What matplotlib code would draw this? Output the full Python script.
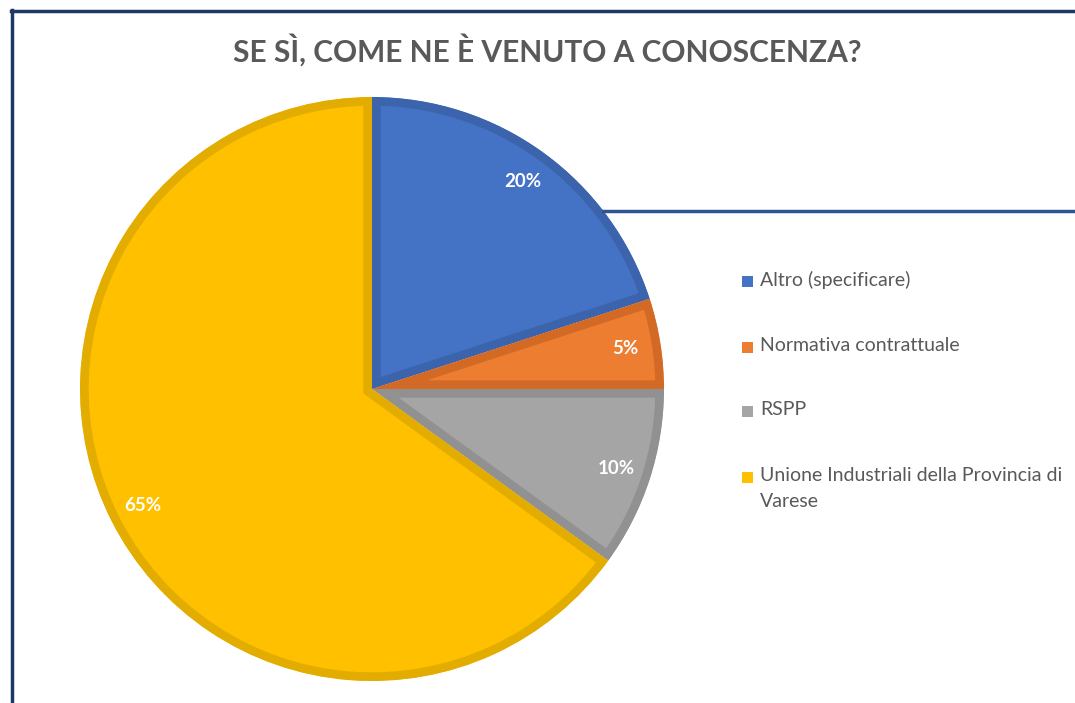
import matplotlib
matplotlib.use("Agg")
import matplotlib.pyplot as plt
from matplotlib.lines import Line2D
from matplotlib.patches import Rectangle, Wedge

plt.rcParams['font.family'] = ['Lato', 'DejaVu Sans']

categories = ['Altro (specificare)', 'Normativa contrattuale', 'RSPP',
              'Unione Industriali della Provincia di\nVarese']
shares = [20, 5, 10, 65]
fill_colors = ['#4472C4', '#ED7D31', '#A5A5A5', '#FFC000']
edge_colors = ['#3B64AD', '#D26A26', '#919191', '#E3AC00']

title = 'SE SÌ, COME NE È VENUTO A CONOSCENZA?'
text_grey = '#595959'

W, H = 1075, 703
fig = plt.figure(figsize=(W / 100, H / 100), dpi=100)

# pie centre (372, 389) px, radius 292 px
cx, cy, r = 372, 389, 292
lim = 1.05
size = 2 * lim * r
ax = fig.add_axes([(cx - lim * r) / W, (H - cy - lim * r) / H, size / W, size / H])
ax.set_facecolor('none')

wedges, _, autotexts = ax.pie(shares, colors=fill_colors, startangle=90, counterclock=False,
                              autopct='%d%%', pctdistance=0.88,
                              textprops=dict(color='white', fontsize=13.5, fontweight='bold'))
# inner stroke: draw a wide edge and clip it to a copy of the wedge
# (pie makes its wedges with clip_on=False, so switch clipping back on)
for w, ec in zip(wedges, edge_colors):
    w.set_edgecolor(ec)
    w.set_linewidth(12.5)
    clip = Wedge(w.center, w.r, w.theta1, w.theta2, transform=ax.transData)
    w.set_clip_on(True)
    w.set_clip_path(clip)
ax.set_xlim(-lim, lim)
ax.set_ylim(-lim, lim)
ax.set_aspect('equal')

fig.text(547 / W, 1 - 50 / H, title, ha='center', va='center',
         fontsize=21.5, fontweight='bold', color=text_grey)

# legend drawn by hand so the marker sits on the first line
row_y = [281, 347, 411, 477]
for lab, col, y in zip(categories, fill_colors, row_y):
    fig.patches.append(Rectangle((742 / W, 1 - (y + 6) / H), 11 / W, 11 / H,
                                 transform=fig.transFigure, facecolor=col, edgecolor='none'))
    fig.text(760 / W, 1 - (y - 10) / H, lab, ha='left', va='top', fontsize=14,
             color=text_grey, linespacing=1.62)

# frame lines and the stray connector line
navy = '#1F3864'
fig.add_artist(Line2D([12 / W, 12 / W], [0, 1 - 10 / H], color=navy, lw=2.5))
fig.add_artist(Line2D([11 / W, 1], [1 - 11 / H, 1 - 11 / H], color=navy, lw=2.5))
fig.add_artist(Line2D([603 / W, 1], [1 - 211 / H, 1 - 211 / H], color='#2F5597', lw=2.5))

fig.savefig('out.png', dpi=100, facecolor='white')
